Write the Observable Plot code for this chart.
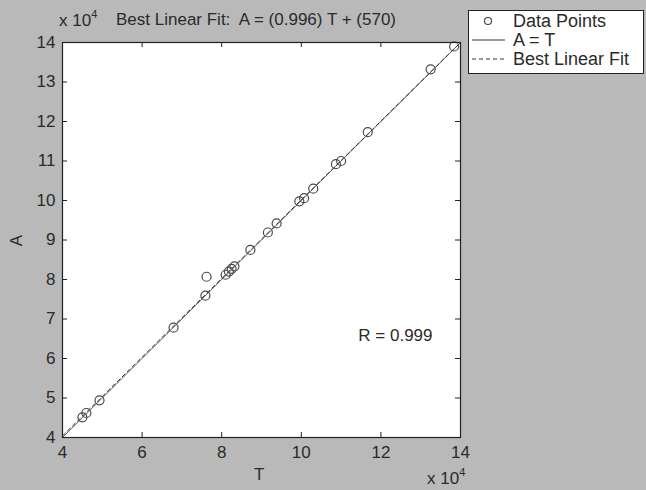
<!DOCTYPE html>
<html><head><meta charset="utf-8">
<script src="https://cdn.jsdelivr.net/npm/d3@7"></script>
<script src="https://cdn.jsdelivr.net/npm/@observablehq/plot@0.6"></script>
<style>
body{margin:0;background:#b9b9b9;}
#wrap{position:relative;width:646px;height:490px;overflow:hidden;background:#b9b9b9;font-family:"Liberation Sans",Arial,sans-serif;color:#2a2a2a;}
.ov{position:absolute;white-space:pre;font-size:17px;line-height:1;}
.ov sup{font-size:11px;vertical-align:0;position:relative;top:-8px;}
#legend{position:absolute;left:468px;top:10px;width:176px;height:64px;background:#fff;border:1px solid #222;box-sizing:border-box;}
#wrap svg{position:absolute;left:0;top:0;}
</style></head><body><div id="wrap"></div>
<script>
// Data (values in units, axis shows x 10^4)
const T = [45000, 46000, 49300, 67900, 75900, 76200, 81000, 81800, 82500, 83200, 87200, 91600, 93800, 99500, 100700, 103000, 108700, 110000, 116700, 132500, 138400];
const A = [45100, 46200, 49400, 67800, 75900, 80700, 81200, 82000, 82700, 83300, 87500, 91900, 94200, 99800, 100600, 103000, 109200, 110000, 117300, 133200, 139000];
const xTicks = [40000, 60000, 80000, 100000, 120000, 140000];
const yTicks = [40000, 50000, 60000, 70000, 80000, 90000, 100000, 110000, 120000, 130000, 140000];
const domain = [40000, 140000];
const slope = 0.996, intercept = 570;
const rValue = 0.999;
const legendLabels = ["Data Points", "A = T", "Best Linear Fit"];

const data = T.map((t, i) => ({T: t, A: A[i]}));
const ident = domain.map(t => ({T: t, A: t}));
const fit = domain.map(t => ({T: t, A: slope * t + intercept}));

const W = 646, H = 490, mL = 62, mR = 186, mT = 42, mB = 53, tick = 5;
const plotW = W - mL - mR, plotH = H - mT - mB;

const plot = Plot.plot({
  width: W, height: H,
  marginLeft: mL, marginRight: mR, marginTop: mT, marginBottom: mB,
  style: {background: "transparent", fontFamily: "Liberation Sans, Arial, sans-serif", fontSize: "17px", color: "#2a2a2a"},
  x: {domain, label: null},
  y: {domain, label: null},
  marks: [
    Plot.frame({fill: "white"}),
    Plot.line(ident, {x: "T", y: "A", stroke: "#666", strokeWidth: 1, clip: true}),
    Plot.line(fit, {x: "T", y: "A", stroke: "#333", strokeWidth: 1, strokeDasharray: "4,3", clip: true}),
    Plot.dot(data, {x: "T", y: "A", r: 4.5, stroke: "#4a4a4a", strokeWidth: 1.2}),
    // inward ticks on all four sides
    Plot.tickX(xTicks, {x: d => d, insetTop: plotH - tick, stroke: "#222"}),
    Plot.tickX(xTicks, {x: d => d, insetBottom: plotH - tick, stroke: "#222"}),
    Plot.tickY(yTicks, {y: d => d, insetRight: plotW - tick, stroke: "#222"}),
    Plot.tickY(yTicks, {y: d => d, insetLeft: plotW - tick, stroke: "#222"}),
    Plot.axisX({anchor: "bottom", ticks: xTicks, tickSize: 0, tickPadding: 8, tickFormat: d => d / 1e4, label: null}),
    Plot.axisY({anchor: "left", ticks: yTicks, tickSize: 0, tickPadding: 7, tickFormat: d => d / 1e4, label: null}),
    Plot.frame({stroke: "#222", strokeWidth: 1.2}),
    Plot.text([`R = ${rValue}`], {frameAnchor: "bottom-right", dx: -28, dy: -97, textAnchor: "end", fontSize: 17, fill: "#2a2a2a"})
  ]
});

const wrap = document.getElementById("wrap");
wrap.appendChild(plot);

function ov(html, css) {
  const d = document.createElement("div");
  d.className = "ov";
  d.innerHTML = html;
  Object.assign(d.style, css);
  wrap.appendChild(d);
  return d;
}
ov("x 10<sup>4</sup>", {left: "59px", top: "12px"});
ov(`Best Linear Fit:  A = (${slope}) T + (${intercept})`, {left: "116px", top: "11px"});
ov("A", {left: "11px", top: "232px", transform: "rotate(-90deg)"});
ov("T", {left: "254px", top: "466px"});
ov("x 10<sup>4</sup>", {left: "427px", top: "470px"});

// Legend
const lg = document.createElement("div");
lg.id = "legend";
const ns = "http://www.w3.org/2000/svg";
const ls = document.createElementNS(ns, "svg");
ls.setAttribute("width", 174); ls.setAttribute("height", 62);
ls.style.position = "absolute"; ls.style.left = "0"; ls.style.top = "0";
const rows = [10, 29, 48];
rows.forEach((y, i) => {
  if (i === 0) {
    const c = document.createElementNS(ns, "circle");
    c.setAttribute("cx", 19); c.setAttribute("cy", y); c.setAttribute("r", 3.5);
    c.setAttribute("fill", "none"); c.setAttribute("stroke", "#444"); c.setAttribute("stroke-width", 1.2);
    ls.appendChild(c);
  } else {
    const l = document.createElementNS(ns, "line");
    l.setAttribute("x1", 3); l.setAttribute("x2", 36); l.setAttribute("y1", y); l.setAttribute("y2", y);
    l.setAttribute("stroke", "#333"); l.setAttribute("stroke-width", 1);
    if (i === 2) l.setAttribute("stroke-dasharray", "4,3");
    ls.appendChild(l);
  }
  const t = document.createElementNS(ns, "text");
  t.setAttribute("x", 44); t.setAttribute("y", y + 6);
  t.setAttribute("font-size", 18); t.setAttribute("fill", "#2a2a2a");
  t.setAttribute("font-family", "Liberation Sans, Arial, sans-serif");
  t.textContent = legendLabels[i];
  ls.appendChild(t);
});
lg.appendChild(ls);
wrap.appendChild(lg);
</script>
</body></html>
